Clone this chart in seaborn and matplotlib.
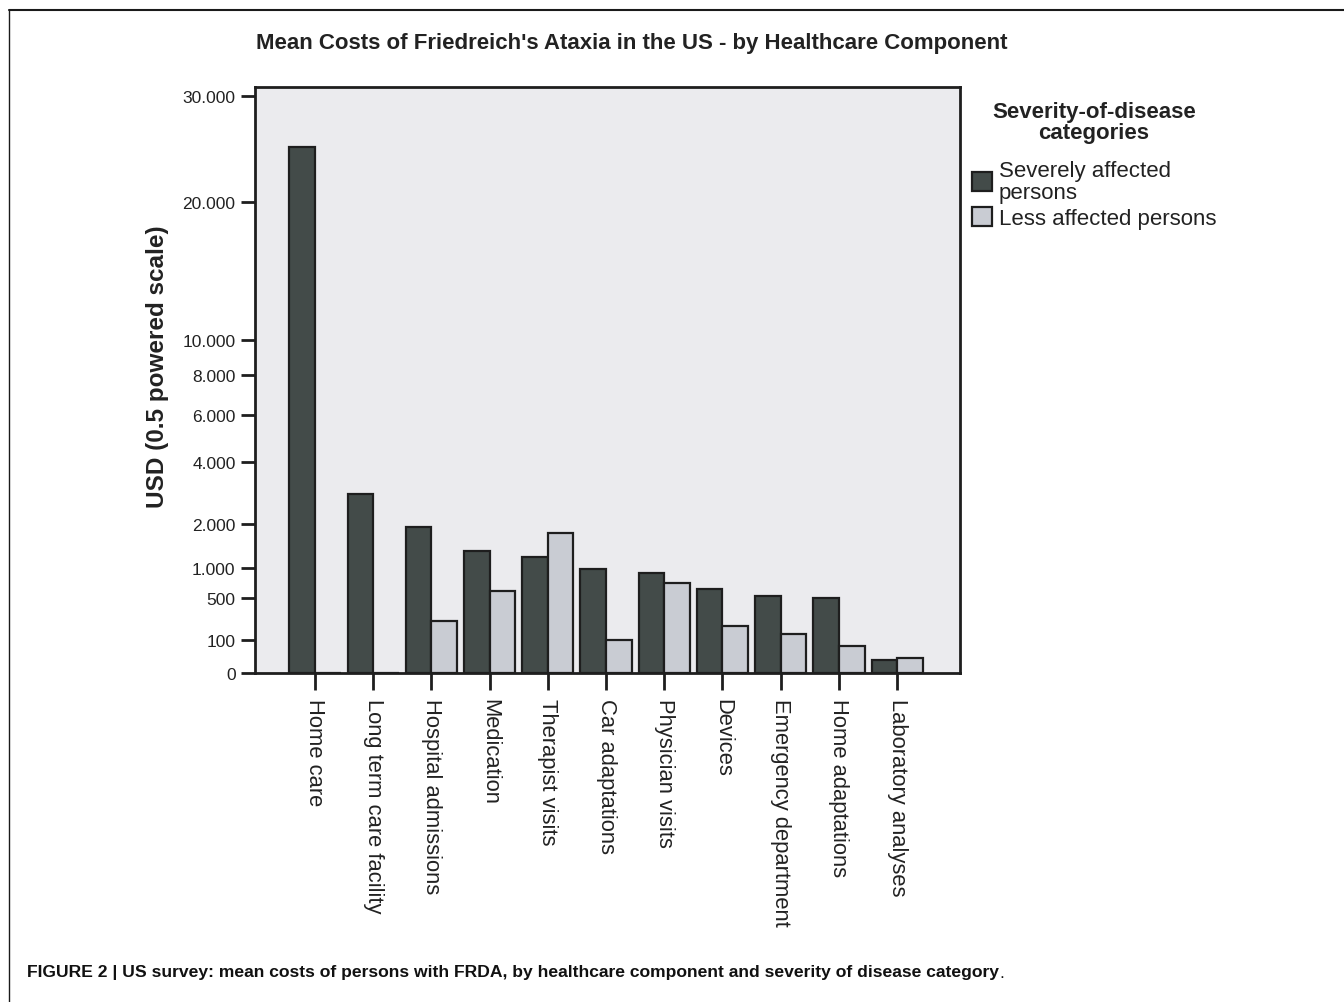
import numpy as np
import pandas as pd
import matplotlib
matplotlib.use("Agg")
import matplotlib.pyplot as plt
import seaborn as sns
from matplotlib.lines import Line2D
from matplotlib.patches import Patch
from matplotlib.ticker import FixedLocator, FixedFormatter

categories = ["Home care", "Long term care facility", "Hospital admissions", "Medication",
              "Therapist visits", "Car adaptations", "Physician visits", "Devices",
              "Emergency department", "Home adaptations", "Laboratory analyses"]
severe = [24900, 2870, 1905, 1345, 1210, 975, 900, 635, 530, 505, 15]
less = [0, 0, 248, 606, 1765, 98, 725, 195, 134, 67, 20]
series_names = ["Severely affected persons", "Less affected persons"]
ytick_values = [0, 100, 500, 1000, 2000, 4000, 6000, 8000, 10000, 20000, 30000]
ytick_labels = ["0", "100", "500", "1.000", "2.000", "4.000", "6.000", "8.000",
                "10.000", "20.000", "30.000"]

df = pd.DataFrame({
    "component": categories * 2,
    "cost": severe + less,
    "group": [series_names[0]] * len(categories) + [series_names[1]] * len(categories),
})

sns.set_theme(style="white")
plt.rcParams['font.family'] = ['Liberation Sans', 'DejaVu Sans']

W, H = 1344, 1003
fig = plt.figure(figsize=(W / 100, H / 100), dpi=100)
ax = fig.add_axes([255 / W, 1 - 674 / H, 705 / W, (674 - 88) / H])
ax.set_facecolor("#ebebee")

palette = {series_names[0]: "#434b49", series_names[1]: "#c9ccd3"}
sns.barplot(data=df, x="component", y="cost", hue="group", order=categories,
            hue_order=series_names, palette=palette, width=0.88, gap=0,
            edgecolor="#1e1e1e", linewidth=1.6, saturation=1, errorbar=None,
            ax=ax, legend=False)

ax.set_yscale("function", functions=(lambda v: np.sqrt(np.clip(v, 0, None)), lambda v: v ** 2))
ax.set_ylim(0, 30900)
ax.set_xlim(-1.03, 11.08)
ax.yaxis.set_major_locator(FixedLocator(ytick_values))
ax.yaxis.set_major_formatter(FixedFormatter(ytick_labels))
ax.yaxis.set_minor_locator(FixedLocator([]))

for s in ax.spines.values():
    s.set_color("#1e1e1e")
    s.set_linewidth(2)

ax.tick_params(axis="y", direction="out", length=10, width=2, color="#1e1e1e",
               labelsize=12.5, labelcolor="#222222", pad=4, left=True)
ax.tick_params(axis="x", direction="out", length=12, width=2, color="#1e1e1e",
               labelsize=15.8, labelcolor="#222222", pad=6, bottom=True)
ax.set_xticks(range(len(categories)))
ax.set_xticklabels(categories, rotation=270, va="top", ha="center")
ax.set_xlabel("")
ax.set_ylabel("USD (0.5 powered scale)", fontsize=17.5, fontweight="bold",
              color="#222222")
ax.yaxis.set_label_coords((169 - 255) / 705, (674 - 367) / 586)

fig.text(632 / W, 1 - 44 / H,
         "Mean Costs of Friedreich's Ataxia in the US - by Healthcare Component",
         ha="center", va="center", fontsize=16, fontweight="bold", color="#222222")

handles = [Patch(facecolor=palette[n], edgecolor="#1e1e1e", linewidth=1.6) for n in series_names]
leg = fig.legend(handles, ["Severely affected\npersons", "Less affected persons"],
                 title="Severity-of-disease\ncategories", loc="upper left",
                 bbox_to_anchor=(972 / W, 1 - 102 / H), frameon=False,
                 fontsize=16, title_fontsize=16, handlelength=0.9, handleheight=0.95,
                 handletextpad=0.3, labelspacing=0.15, borderaxespad=0, borderpad=0)
leg.get_title().set_fontweight("bold")
leg.get_title().set_multialignment("center")
leg.get_title().set_color("#222222")
leg.get_title().set_linespacing(1.0)
for t in leg.get_texts():
    t.set_color("#222222")
    t.set_linespacing(1.1)
leg._legend_box.align = "center"
leg._legend_box.sep = 12

cap = fig.text(27 / W, 1 - 973 / H,
               "FIGURE 2 | US survey: mean costs of persons with FRDA, by healthcare component and severity of disease category",
               ha="left", va="center", fontsize=12.6, fontweight="bold", color="#111111")
fig.canvas.draw()
bb = cap.get_window_extent()
fig.text(bb.x1 / W + 0.5 / W, 1 - 973 / H, ".", ha="left", va="center",
         fontsize=12.6, color="#111111")

fig.add_artist(Line2D([9 / W, 1], [1 - 11 / H, 1 - 11 / H], transform=fig.transFigure,
                      color="#1a1a1a", linewidth=1.5))
fig.add_artist(Line2D([9 / W, 9 / W], [0, 1 - 11 / H], transform=fig.transFigure,
                      color="#1a1a1a", linewidth=1.0))

fig.savefig("out.png", dpi=100)
